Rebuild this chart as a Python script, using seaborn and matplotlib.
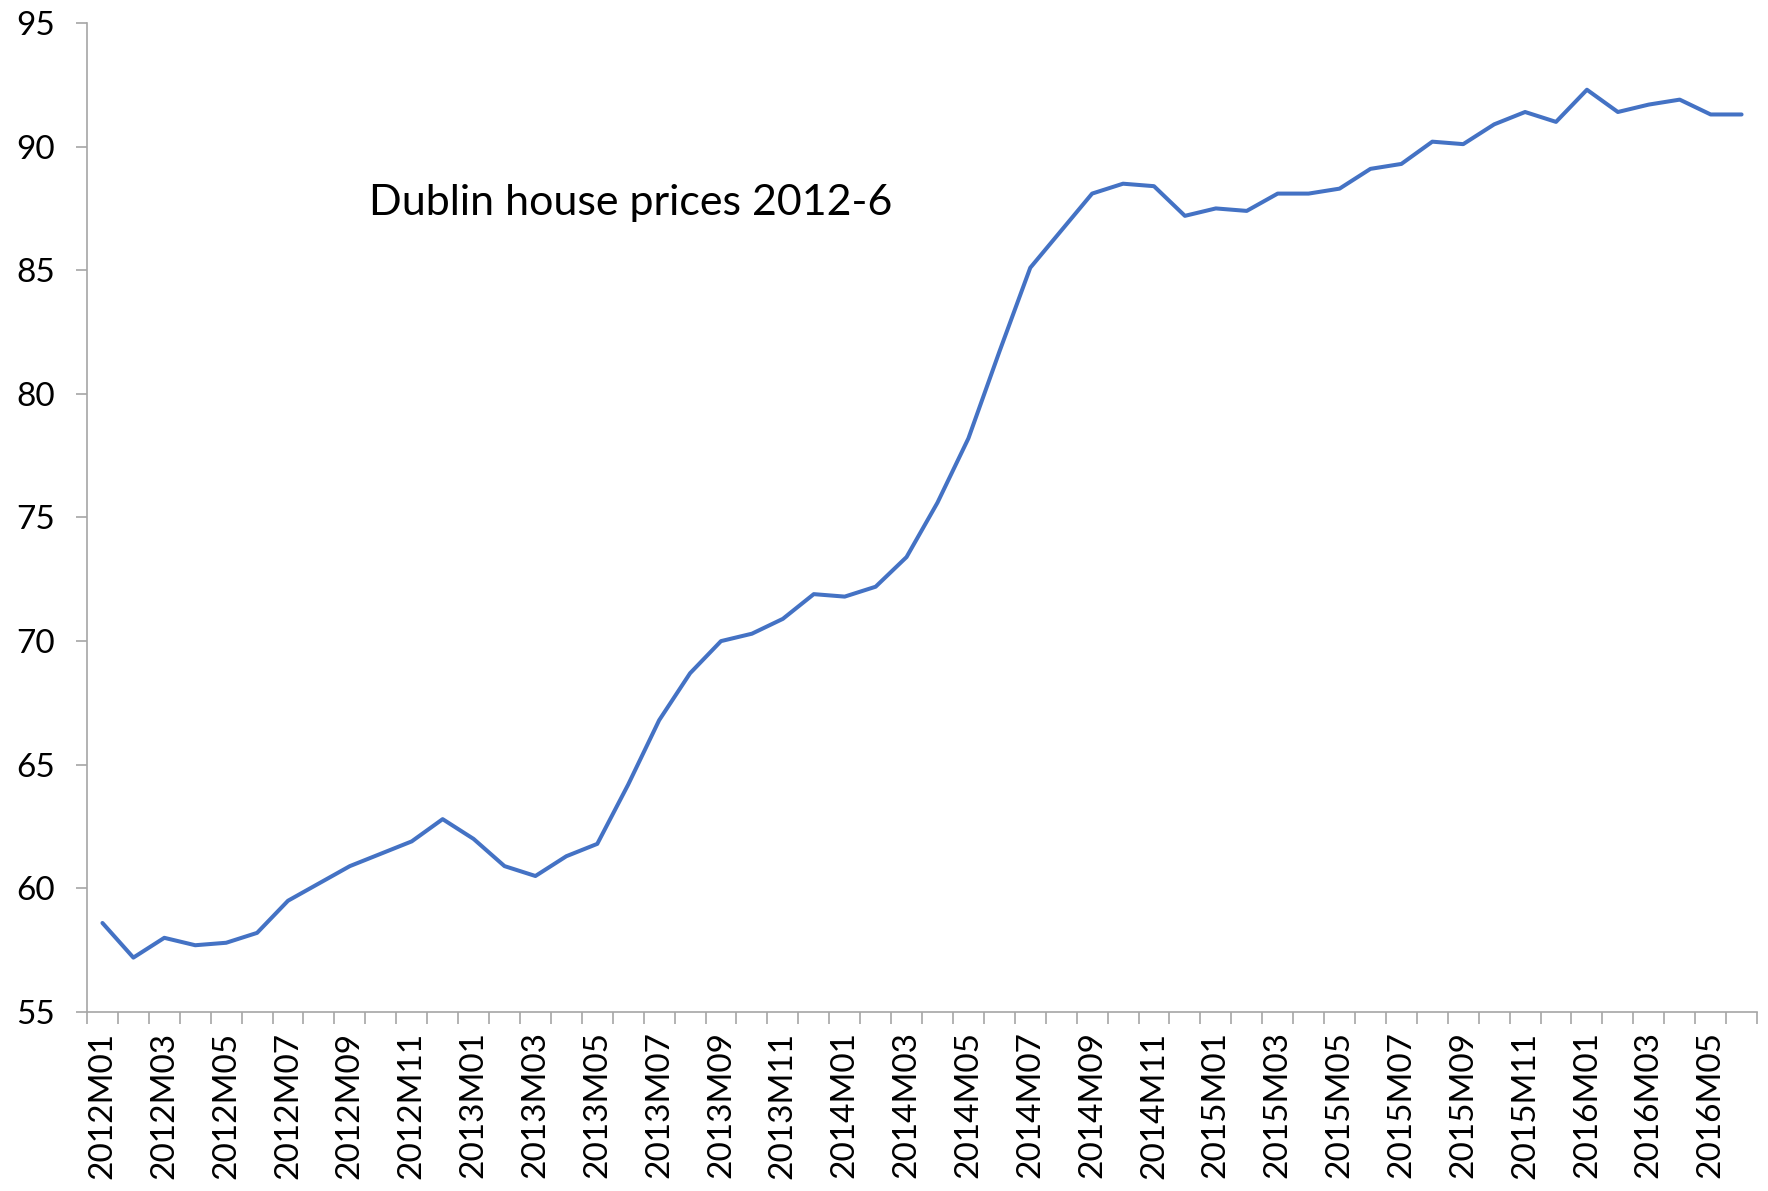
import numpy as np
import pandas as pd
import matplotlib
matplotlib.use("Agg")
import matplotlib.pyplot as plt
import seaborn as sns

# monthly index values, 2012M01 .. 2016M06
years = [2012] * 12 + [2013] * 12 + [2014] * 12 + [2015] * 12 + [2016] * 6
months = list(range(1, 13)) * 4 + list(range(1, 7))
labels = [f"{y}M{m:02d}" for y, m in zip(years, months)]
prices = [58.6, 57.2, 58.0, 57.7, 57.8, 58.2, 59.5, 60.2, 60.9, 61.4, 61.9, 62.8,
          62.0, 60.9, 60.5, 61.3, 61.8, 64.2, 66.8, 68.7, 70.0, 70.3, 70.9, 71.9,
          71.8, 72.2, 73.4, 75.6, 78.2, 81.7, 85.1, 86.6, 88.1, 88.5, 88.4, 87.2,
          87.5, 87.4, 88.1, 88.1, 88.3, 89.1, 89.3, 90.2, 90.1, 90.9, 91.4, 91.0,
          92.3, 91.4, 91.7, 91.9, 91.3, 91.3]
title = "Dublin house prices 2012-6"

df = pd.DataFrame({"idx": np.arange(len(labels)), "price": prices})

sns.set_style("white")
plt.rcParams["font.family"] = ["Lato", "DejaVu Sans"]

fig = plt.figure(figsize=(17.68, 11.91), dpi=100)
ax = fig.add_axes([0.0492, 0.1503, 0.9446, 0.8304])

sns.lineplot(data=df, x="idx", y="price", color="#4472C4", linewidth=2.9, ax=ax)

ax.set_xlim(-0.5, len(labels) - 0.5)
ax.set_ylim(55, 95)
ax.set_yticks(range(55, 96, 5))
ax.set_xticks(df["idx"][::2])
ax.set_xticklabels(labels[::2], rotation=90)
ax.set_xticks(np.arange(-0.5, len(labels), 1), minor=True)
ax.set_xlabel("")
ax.set_ylabel("")

gray = "#A6A6A6"
for s in ["top", "right"]:
    ax.spines[s].set_visible(False)
for s in ["left", "bottom"]:
    ax.spines[s].set_color(gray)
    ax.spines[s].set_linewidth(1.2)

ax.tick_params(axis="x", which="major", length=0, pad=14, labelsize=24, labelcolor="black")
ax.tick_params(axis="x", which="minor", length=8.5, width=1.2, color=gray, direction="out", bottom=True)
ax.tick_params(axis="y", length=8, width=1.2, color=gray, direction="out", left=True, pad=15,
               labelsize=24, labelcolor="black")

ax.text(0.169, 0.818, title, transform=ax.transAxes, fontsize=31, ha="left", va="center", color="black")

fig.savefig("out.png", dpi=100)
